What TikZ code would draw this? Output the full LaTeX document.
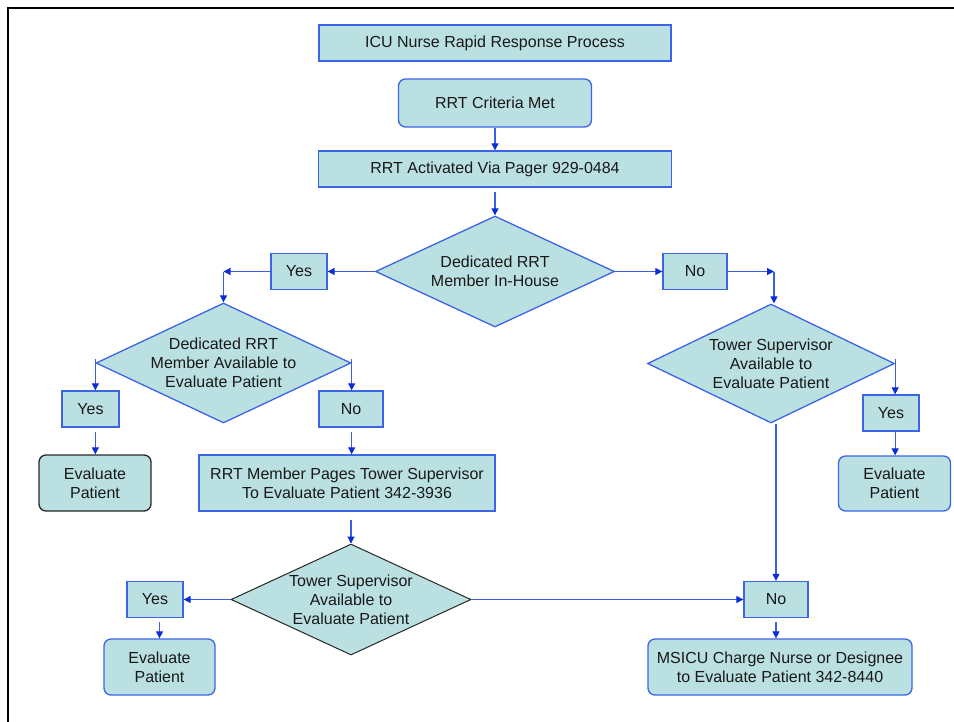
\documentclass[tikz,border=0pt]{standalone}
\usepackage{fontspec}
\setmainfont{Liberation Sans}
\usetikzlibrary{shapes.geometric,arrows.meta}
\definecolor{boxfill}{RGB}{186,224,226}
\definecolor{boxline}{RGB}{62,100,230}
\definecolor{arrline}{RGB}{60,95,225}
\definecolor{arrtip}{RGB}{10,45,215}
\definecolor{darkline}{RGB}{40,40,40}
\tikzset{
  base/.style={fill=boxfill,draw=boxline,line width=1.3pt,inner sep=0pt,align=center,
    font=\fontsize{16}{19}\selectfont,text=black!90},
  rectbox/.style={base,rectangle},
  roundbox/.style={base,rectangle,rounded corners=7pt},
  decision/.style={base,diamond,inner sep=0pt},
  dtext/.style={align=center,font=\fontsize{16}{19}\selectfont,text=black!90},
  arr/.style={draw=arrline,line width=1.1pt,-{Triangle[length=7pt,width=7pt,fill=arrtip,color=arrtip]}}
}
\begin{document}
\begin{tikzpicture}[x=1pt,y=-1pt]
\useasboundingbox (0,0) rectangle (954,721);
\draw[line width=2pt,black] (8,722) -- (8,8) -- (955,8);

\node[rectbox,minimum width=352,minimum height=36] (title) at (495,43) {ICU Nurse Rapid Response Process};
\node[roundbox,minimum width=193,minimum height=48] (crit) at (495,103) {RRT Criteria Met};
\node[rectbox,minimum width=353,minimum height=36] (act) at (495,169) {RRT Activated Via Pager 929-0484};

\node[decision,minimum width=239,minimum height=111,label={[dtext]center:Dedicated RRT\\Member In-House}] (d1) at (495,271.5) {};
\node[rectbox,minimum width=56,minimum height=36] (yes1) at (299,271.5) {Yes};
\node[rectbox,minimum width=64,minimum height=36] (no1) at (695,271.5) {No};

\node[decision,minimum width=255,minimum height=120,label={[dtext]center:Dedicated RRT\\Member Available to\\Evaluate Patient}] (d2) at (223.5,363) {};
\node[decision,minimum width=247,minimum height=119,label={[dtext]center:Tower Supervisor\\Available to\\Evaluate Patient}] (d3) at (771,363.5) {};

\node[rectbox,minimum width=57,minimum height=36] (yes2) at (90.5,409) {Yes};
\node[rectbox,minimum width=64,minimum height=36] (no2) at (351,409) {No};
\node[roundbox,draw=darkline,minimum width=112,minimum height=56] (ev1) at (95,483) {Evaluate\\Patient};
\node[rectbox,minimum width=296,minimum height=56] (pages) at (347,483) {RRT Member Pages Tower Supervisor\\To Evaluate Patient 342-3936};

\node[rectbox,minimum width=56,minimum height=36] (yes3) at (891,413) {Yes};
\node[roundbox,minimum width=112,minimum height=55] (ev2) at (894.5,483.5) {Evaluate\\Patient};

\node[decision,draw=darkline,line width=1pt,minimum width=240,minimum height=111,label={[dtext]center:Tower Supervisor\\Available to\\Evaluate Patient}] (d4) at (351,599.5) {};
\node[rectbox,minimum width=56,minimum height=36] (yes4) at (155,599.5) {Yes};
\node[roundbox,minimum width=111,minimum height=56] (ev3) at (159.5,667) {Evaluate\\Patient};
\node[rectbox,minimum width=64,minimum height=36] (no4) at (776,599.5) {No};
\node[roundbox,minimum width=264,minimum height=56] (msicu) at (780,667) {MSICU Charge Nurse or Designee\\to Evaluate Patient 342-8440};

% connectors
\draw[arr] (crit.south) -- (crit.south |- act.north);
\draw[arr,shorten <=4pt] (act.south) -- (d1.north);
\draw[arr] (d1.west) -- (yes1.east);
\coordinate (cyl) at (d2.north |- d1.west);
\draw[arr] (yes1.west) -- (cyl);
\draw[arr] (cyl) -- (d2.north);
\draw[arr] (d1.east) -- (no1.west);
\coordinate (cnr) at ([xshift=3pt]d3.north |- d1.east);
\draw[arr] (no1.east) -- (cnr);
\draw[arr] (cnr) -- (cnr |- d3.north);

\draw[arr] ([yshift=4pt]d2.west) -- (d2.west |- yes2.north);
\draw[arr,shorten <=4pt] (d2.west |- yes2.south) -- (d2.west |- ev1.north);
\draw[arr] ([yshift=4pt]d2.east) -- (d2.east |- no2.north);
\draw[arr,shorten <=4pt] (d2.east |- no2.south) -- (d2.east |- pages.north);
\draw[arr,shorten <=8pt] (d4.north |- pages.south) -- (d4.north);

\draw[arr] ([yshift=5pt]d3.east) -- (d3.east |- yes3.north);
\draw[arr] (d3.east |- yes3.south) -- (d3.east |- ev2.north);
\draw[arr] (d3.south -| no4.north) -- (no4.north);

\draw[arr] (d4.west) -- (yes4.east);
\draw[arr,shorten <=4pt] (yes4.south -| ev3.north) -- (ev3.north);
\draw[arr] (d4.east) -- (no4.west);
\draw[arr,shorten <=4pt] (no4.south) -- (no4.south |- msicu.north);
\end{tikzpicture}
\end{document}
